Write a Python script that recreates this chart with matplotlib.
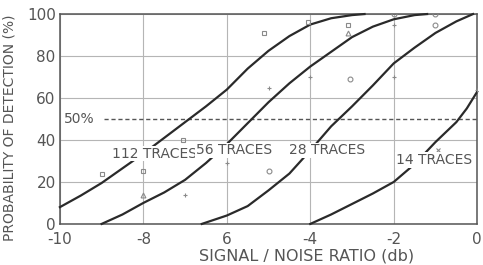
import numpy as np
import matplotlib
matplotlib.use("Agg")
import matplotlib.pyplot as plt

plt.rcParams['font.family'] = ['DejaVu Sans']

# curves (signal/noise in db, probability in %)
x112 = [-10, -9.5, -9, -8.5, -8, -7.5, -7, -6.5, -6, -5.5, -5, -4.5, -4, -3.5, -3, -2.7]
y112 = [8, 13.5, 19.5, 26.5, 33.5, 41, 48.5, 56, 64, 74, 82.5, 89.5, 95, 98, 99.5, 100]
x56 = [-9, -8.5, -8, -7.5, -7, -6.5, -6, -5.5, -5, -4.5, -4, -3.5, -3, -2.5, -2, -1.5, -1.2]
y56 = [0, 4.5, 10, 15, 21, 29, 38, 48, 58, 67, 75, 82, 89, 94, 97.5, 99.5, 100]
x28 = [-6.6, -6, -5.5, -5, -4.5, -4, -3.5, -3, -2.5, -2, -1.5, -1, -0.5, -0.1]
y28 = [0, 4, 8.5, 16, 24, 35, 46.5, 56, 66, 76.5, 84, 91, 96.5, 100]
x14 = [-4, -3.5, -3, -2.5, -2, -1.5, -1, -0.5, -0.25, 0]
y14 = [0, 4.5, 9.5, 14.5, 20, 28.5, 39, 48.5, 55, 63]

# measured points (faint markers)
sq_x = [-9.0, -8.0, -7.05, -5.1, -4.05, -3.1]
sq_y = [24, 25, 40, 91, 96, 95]
tri_x = [-8.0, -3.1]
tri_y = [14, 91]
circ_x = [-5.0, -3.05, -2.0, -1.0, -1.0]
circ_y = [25, 69, 100, 100, 95]
plus_x = [-7.0, -6.0, -5.0, -4.0, -2.0, -2.0, 0.0]
plus_y = [14, 29, 65, 70, 70, 95, 64]
cross_x = [-0.95]
cross_y = [35]

xticks = [-10, -8, -6, -4, -2, 0]
xlabels = ["-10", "-8", "6", "-4", "-2", "0"]
yticks = [0, 20, 40, 60, 80, 100]

fig = plt.figure(figsize=(4.83, 2.65), dpi=100)
ax = fig.add_axes([0.124, 0.155, 0.864, 0.792])

ink = '#2a2a2a'
grey = '#555555'

ax.set_xlim(-10, 0)
ax.set_ylim(0, 100)
ax.set_xticks(xticks)
ax.set_xticklabels(xlabels)
ax.set_yticks(yticks)
ax.tick_params(length=0, labelsize=11, colors=grey)
ax.tick_params(axis='x', pad=6)
ax.tick_params(axis='y', pad=3)
for s in ax.spines.values():
    s.set_color(grey)
    s.set_linewidth(1.1)
ax.grid(True, color='#b5b5b5', lw=0.8)
ax.set_axisbelow(True)

ax.plot([-8.95, 0], [50, 50], color=grey, lw=1, ls=(0, (3, 2)), zorder=2)
ax.text(-9.9, 50, "50%", color=grey, fontsize=10, va='center', ha='left')

for xs, ys in [(x112, y112), (x56, y56), (x28, y28), (x14, y14)]:
    ax.plot(xs, ys, color=ink, lw=1.6, zorder=3, clip_on=False)

mk = dict(ls='none', mfc='none', mec='#8a8a8a', mew=0.8, ms=3.5, zorder=4)
ax.plot(sq_x, sq_y, marker='s', **mk)
ax.plot(tri_x, tri_y, marker='^', **mk)
ax.plot(circ_x, circ_y, marker='o', **mk)
ax.plot(plus_x, plus_y, marker='+', **mk)
ax.plot(cross_x, cross_y, marker='x', **mk)

box = dict(facecolor='white', edgecolor='none', pad=0.5)
ax.text(-8.75, 33.5, "112 TRACES", color=grey, fontsize=10, va='center', bbox=box, zorder=5)
ax.text(-6.75, 35, "56 TRACES", color=grey, fontsize=10, va='center', bbox=box, zorder=5)
ax.text(-4.5, 35, "28 TRACES", color=grey, fontsize=10, va='center', bbox=box, zorder=5)
ax.text(-1.95, 30.5, "14 TRACES", color=grey, fontsize=10, va='center', bbox=box, zorder=5)

ax.set_xlabel("SIGNAL / NOISE RATIO (db)", color=grey, fontsize=11.5)
ax.xaxis.set_label_coords(0.59, -0.115)
ax.set_ylabel("PROBABILITY OF DETECTION (%)", color=grey, fontsize=10)
ax.yaxis.set_label_coords(-0.105, 0.46)

fig.savefig("out.png", dpi=100)
